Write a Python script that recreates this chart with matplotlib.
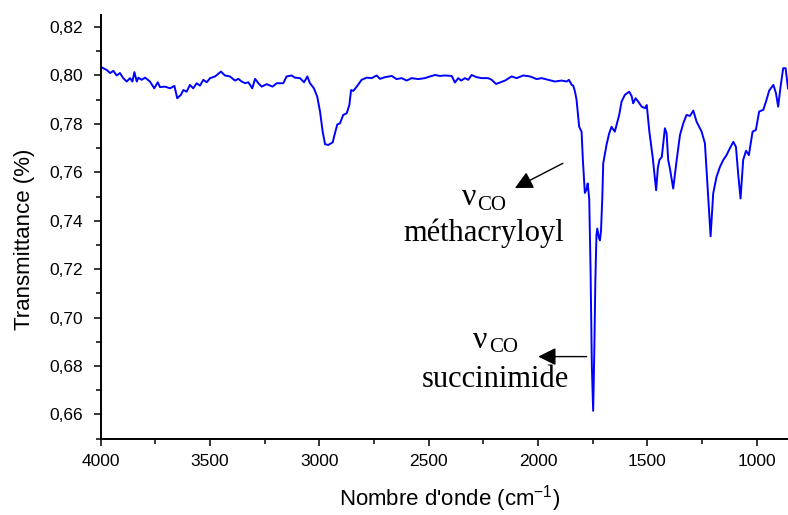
import matplotlib
matplotlib.use("Agg")
import matplotlib.pyplot as plt
from matplotlib.ticker import MultipleLocator, FuncFormatter

wavenumber = [4000, 3995, 3973, 3957, 3942, 3927, 3912, 3897, 3881, 3866, 3855, 3846, 3835, 3828,
              3813, 3797, 3775, 3755, 3739, 3729, 3706, 3683, 3663, 3650, 3633, 3622, 3607, 3592,
              3577, 3561, 3546, 3531, 3515, 3500, 3477, 3450, 3432, 3409, 3386, 3371, 3355, 3340,
              3325, 3307, 3294, 3279, 3264, 3241, 3214, 3195, 3165, 3150, 3127, 3112, 3089, 3070,
              3055, 3043, 3025, 3010, 2997, 2985, 2974, 2959, 2939, 2929, 2918, 2906, 2891, 2875,
              2863, 2855, 2845, 2829, 2807, 2784, 2761, 2738, 2723, 2700, 2669, 2647, 2624, 2601,
              2578, 2548, 2517, 2494, 2471, 2449, 2426, 2395, 2380, 2365, 2352, 2334, 2319, 2304,
              2281, 2258, 2228, 2212, 2192, 2174, 2151, 2121, 2098, 2068, 2037, 2006, 1984, 1953,
              1923, 1892, 1869, 1859, 1846, 1839, 1831, 1824, 1812, 1801, 1795, 1786, 1778, 1773,
              1766, 1760, 1754, 1748, 1743, 1738, 1733, 1729, 1722, 1717, 1712, 1706, 1702, 1687,
              1675, 1664, 1649, 1629, 1618, 1603, 1583, 1572, 1565, 1554, 1542, 1526, 1511, 1503,
              1491, 1476, 1460, 1452, 1445, 1434, 1420, 1412, 1405, 1397, 1382, 1366, 1351, 1336,
              1321, 1305, 1290, 1275, 1252, 1237, 1225, 1211, 1199, 1184, 1168, 1153, 1138, 1123,
              1107, 1095, 1085, 1074, 1062, 1049, 1036, 1019, 1004, 989, 970, 955, 943, 924,
              912, 902, 891, 879, 868, 857]

transmittance = [0.8037, 0.8033, 0.8023, 0.8010, 0.8019, 0.8000, 0.8010, 0.7989, 0.7975, 0.7989,
                 0.7975, 0.8014, 0.7975, 0.7991, 0.7982, 0.7991, 0.7975, 0.7947, 0.7972, 0.7952,
                 0.7954, 0.7947, 0.7957, 0.7906, 0.7920, 0.7940, 0.7933, 0.7961, 0.7947, 0.7968,
                 0.7958, 0.7982, 0.7972, 0.7989, 0.7996, 0.8016, 0.8000, 0.7996, 0.7979, 0.7986,
                 0.7975, 0.7968, 0.7972, 0.7947, 0.7986, 0.7968, 0.7954, 0.7964, 0.7954, 0.7968,
                 0.7968, 0.7996, 0.8000, 0.7991, 0.7989, 0.7972, 0.7996, 0.7968, 0.7947, 0.7913,
                 0.7851, 0.7768, 0.7716, 0.7713, 0.7724, 0.7761, 0.7798, 0.7802, 0.7837, 0.7844,
                 0.7878, 0.7940, 0.7936, 0.7954, 0.7982, 0.7991, 0.7989, 0.8000, 0.7986, 0.7993,
                 0.7998, 0.7985, 0.7989, 0.7979, 0.7989, 0.7985, 0.7989, 0.7996, 0.8002, 0.7998,
                 0.8000, 0.7998, 0.7971, 0.7989, 0.7979, 0.7989, 0.7982, 0.8002, 0.7993, 0.7989,
                 0.7989, 0.7982, 0.7965, 0.7971, 0.7979, 0.7996, 0.7989, 0.8000, 0.7996, 0.7985,
                 0.7989, 0.7982, 0.7975, 0.7979, 0.7975, 0.7982, 0.7961, 0.7958, 0.7933, 0.7900,
                 0.7788, 0.7768, 0.7650, 0.7515, 0.7530, 0.7554, 0.7490, 0.7200, 0.6800, 0.6615,
                 0.6850, 0.7150, 0.7340, 0.7368, 0.7330, 0.7319, 0.7360, 0.7500, 0.7637, 0.7713,
                 0.7760, 0.7788, 0.7768, 0.7837, 0.7892, 0.7920, 0.7933, 0.7915, 0.7885, 0.7906,
                 0.7892, 0.7871, 0.7865, 0.7878, 0.7768, 0.7664, 0.7526, 0.7620, 0.7651, 0.7664,
                 0.7782, 0.7760, 0.7651, 0.7616, 0.7533, 0.7651, 0.7754, 0.7802, 0.7837, 0.7833,
                 0.7855, 0.7809, 0.7768, 0.7720, 0.7540, 0.7336, 0.7513, 0.7581, 0.7623, 0.7651,
                 0.7671, 0.7699, 0.7726, 0.7705, 0.7595, 0.7492, 0.7651, 0.7689, 0.7671, 0.7768,
                 0.7775, 0.7851, 0.7858, 0.7900, 0.7938, 0.7961, 0.7927, 0.7871, 0.7954, 0.8030,
                 0.8030, 0.7947]

x_label = "Nombre d'onde (cm$^{\\mathrm{-1}}$)"
y_label = "Transmittance (%)"
nu_text = "ν"
co_text = "CO"
label_metha = "méthacryloyl"
label_succ = "succinimide"

plt.rcParams['font.family'] = ['Liberation Sans', 'DejaVu Sans']
plt.rcParams['mathtext.fontset'] = 'custom'
plt.rcParams['mathtext.rm'] = 'Liberation Sans'
plt.rcParams['mathtext.it'] = 'Liberation Sans:italic'
plt.rcParams['mathtext.bf'] = 'Liberation Sans:bold'

fig = plt.figure(figsize=(7.88, 5.15), dpi=100)
ax = fig.add_axes([0.1278, 0.1482, 0.8722, 0.8228])

ax.plot(wavenumber, transmittance, color='#0000ff', lw=1.4)

ax.set_xlim(4000, 857)
ax.set_ylim(0.65, 0.825)

ax.xaxis.set_major_locator(MultipleLocator(500))
ax.xaxis.set_minor_locator(MultipleLocator(250))
ax.yaxis.set_major_locator(MultipleLocator(0.02))
ax.yaxis.set_minor_locator(MultipleLocator(0.01))
ax.yaxis.set_major_formatter(FuncFormatter(lambda v, p: f"{v:.2f}".replace('.', ',')))
ax.xaxis.set_major_formatter(FuncFormatter(lambda v, p: f"{int(round(v))}"))

for s in ['top', 'right']:
    ax.spines[s].set_visible(False)
for s in ['left', 'bottom']:
    ax.spines[s].set_linewidth(1.4)

ax.tick_params(axis='both', which='major', direction='out', length=5, width=1.1, labelsize=12.5)
ax.tick_params(axis='both', which='minor', direction='out', length=3.5, width=1.1)
ax.tick_params(axis='y', which='major', pad=8)
ax.tick_params(axis='x', which='major', pad=6)

ax.set_ylabel(y_label, fontsize=16)
ax.set_xlabel(x_label, fontsize=16)
ax.yaxis.set_label_coords(-0.095, 0.47)
ax.xaxis.set_label_coords(0.507, -0.104)

serif = ['Liberation Serif', 'DejaVu Serif']
# méthacryloyl annotation
ax.text(2349, 0.7465, nu_text, fontsize=23, ha='left', va='baseline', family=serif)
ax.text(2279, 0.7444, co_text, fontsize=15, ha='left', va='baseline', family=serif)
ax.text(2246, 0.7315, label_metha, fontsize=22, ha='center', va='baseline', family=serif)
ax.annotate('', xy=(2106, 0.7535), xytext=(1887, 0.7637),
            arrowprops=dict(arrowstyle='-|>', mutation_scale=27, color='black', lw=1.0,
                            shrinkA=0, shrinkB=0))
# succinimide annotation
ax.text(2296, 0.6876, nu_text, fontsize=23, ha='left', va='baseline', family=serif)
ax.text(2222, 0.6856, co_text, fontsize=15, ha='left', va='baseline', family=serif)
ax.text(2197, 0.6715, label_succ, fontsize=22, ha='center', va='baseline', family=serif)
ax.annotate('', xy=(1999, 0.6839), xytext=(1778, 0.6839),
            arrowprops=dict(arrowstyle='-|>', mutation_scale=27, color='black', lw=1.0,
                            shrinkA=0, shrinkB=0))

fig.savefig('out.png', dpi=100)
